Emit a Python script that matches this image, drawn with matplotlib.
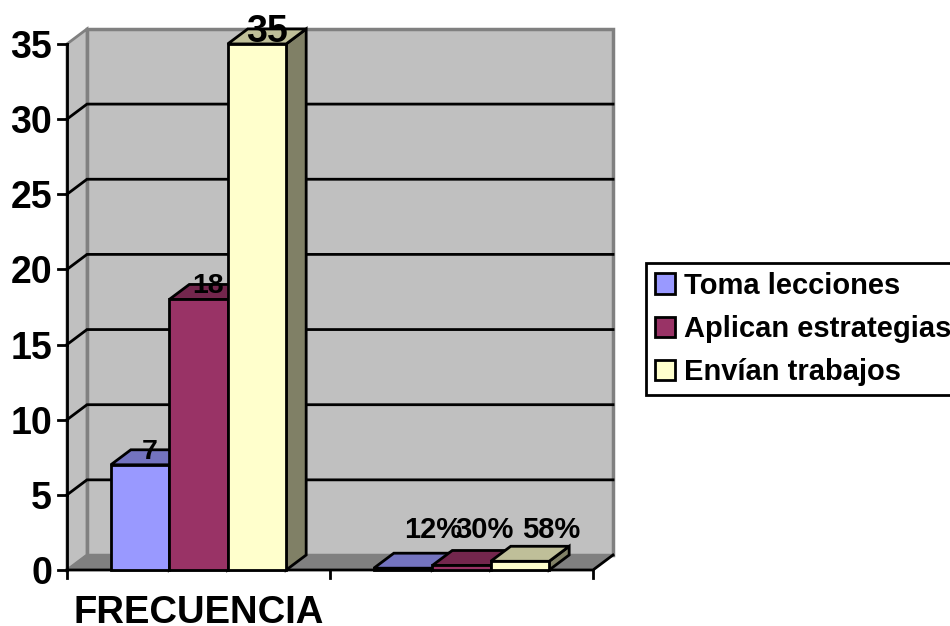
import matplotlib
matplotlib.use('Agg')
import matplotlib.pyplot as plt
from matplotlib.patches import Polygon, Patch

plt.rcParams['font.family'] = ['Liberation Sans', 'DejaVu Sans']
plt.rcParams['font.weight'] = 'bold'

categories = ['FRECUENCIA', '']
series_names = ['Toma lecciones', 'Aplican estrategias', 'Envían trabajos']
frecuencia = [7, 18, 35]
porcentaje = [0.12, 0.30, 0.58]
pct_labels = ['12%', '30%', '58%']
y_ticks = [0, 5, 10, 15, 20, 25, 30, 35]

front_colors = ['#9999FF', '#993366', '#FFFFCC']
top_colors = ['#7373BF', '#73264D', '#BFBF99']
side_colors = ['#4D4D80', '#4D1A33', '#808066']

# escala: una categoria = 263 px, una unidad de y = 15.03 px
PX_X = 263.0
PX_Y = 15.03
DX = 20 / PX_X
DY = 15 / PX_Y
YMAX = 35
BAR_W = 1 / 4.5
MARGIN = 0.75 / 4.5

fig = plt.figure(figsize=(9.5, 6.26), dpi=100)
ax = fig.add_axes([0, 0, 1, 1])
ax.set_xlim(-67 / PX_X, (950 - 67) / PX_X)
ax.set_ylim(-56 / PX_Y, 570 / PX_Y)
ax.axis('off')

WALL = '#C0C0C0'
GRAY = '#808080'

# paredes y piso
ax.add_patch(Polygon([(DX, DY), (2 + DX, DY), (2 + DX, YMAX + DY), (DX, YMAX + DY)],
                     facecolor=WALL, edgecolor=GRAY, lw=2.5, zorder=1))
ax.add_patch(Polygon([(0, 0), (DX, DY), (DX, YMAX + DY), (0, YMAX)],
                     facecolor=WALL, edgecolor=GRAY, lw=2, zorder=1))
ax.add_patch(Polygon([(0, 0), (2, 0), (2 + DX, DY), (DX, DY)],
                     facecolor=GRAY, edgecolor=GRAY, lw=1, zorder=1))

# rejilla
for t in y_ticks[1:-1]:
    ax.plot([0, DX, 2 + DX], [t, t + DY, t + DY], color='black', lw=2, zorder=2,
            solid_joinstyle='miter')

# ejes
ax.plot([0, 0], [0, YMAX], color='black', lw=2, zorder=2)
ax.plot([0, 2, 2 + DX], [0, 0, DY], color='black', lw=2, zorder=2, solid_joinstyle='miter')
for t in y_ticks:
    ax.plot([-9 / PX_X, 0], [t, t], color='black', lw=2, zorder=2)
    ax.text(-15 / PX_X, t, str(t), ha='right', va='center_baseline', fontsize=27, zorder=6)
for c in range(3):
    ax.plot([c, c], [0, -8 / PX_Y], color='black', lw=2, zorder=2)
ax.text(0.5, -53 / PX_Y, categories[0], ha='center', va='baseline', fontsize=27.5, zorder=6)


def draw_bar(x, v, i):
    w = BAR_W
    ax.add_patch(Polygon([(x + w, 0), (x + w + DX, DY), (x + w + DX, v + DY), (x + w, v)],
                         facecolor=side_colors[i], edgecolor='black', lw=2, zorder=3 + i * 0.1))
    ax.add_patch(Polygon([(x, v), (x + w, v), (x + w + DX, v + DY), (x + DX, v + DY)],
                         facecolor=top_colors[i], edgecolor='black', lw=2, zorder=3 + i * 0.1))
    ax.add_patch(Polygon([(x, 0), (x + w, 0), (x + w, v), (x, v)],
                         facecolor=front_colors[i], edgecolor='black', lw=2, zorder=3 + i * 0.1))


for i, v in enumerate(frecuencia):
    x = MARGIN + i * BAR_W
    draw_bar(x, v, i)
    size = 27 if v == 35 else 20.5
    ax.text(x + BAR_W / 2 + DX / 2, v + DY + 0.07, str(v), ha='center', va='center_baseline',
            fontsize=size, zorder=6)

pct_shift = [30, 23, 31]
for i, v in enumerate(porcentaje):
    x = 1 + MARGIN + i * BAR_W
    draw_bar(x, v, i)
    ax.text(x + BAR_W / 2 + pct_shift[i] / PX_X, 43 / PX_Y, pct_labels[i], ha='center',
            va='center_baseline', fontsize=21, zorder=6)

# leyenda
handles = [Patch(facecolor=c, edgecolor='black', lw=2, label=n)
           for c, n in zip(front_colors, series_names)]
leg = ax.legend(handles=handles, loc='upper left', bbox_to_anchor=(646 / 950, 1 - 263 / 626),
                fontsize=21, frameon=True, fancybox=False, framealpha=1, edgecolor='black',
                handlelength=0.69, handleheight=0.69, handletextpad=0.3, labelspacing=0.52,
                borderpad=0.3, borderaxespad=0)
leg.get_frame().set_linewidth(2)

fig.savefig('out.png', dpi=100)
